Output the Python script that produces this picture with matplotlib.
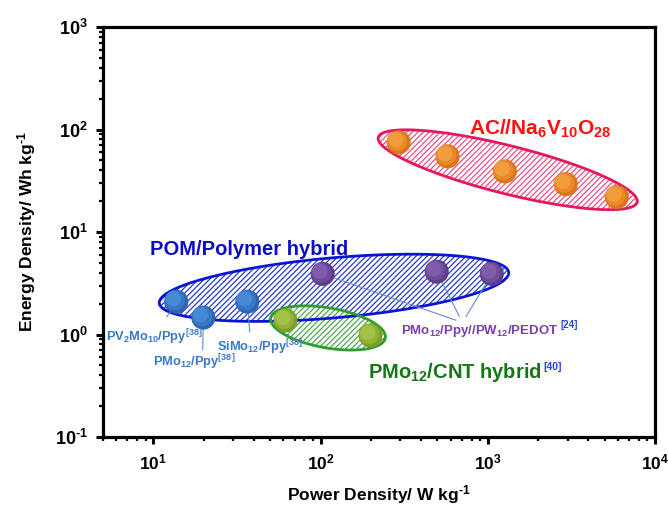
import numpy as np
import matplotlib
matplotlib.use("Agg")
import matplotlib.pyplot as plt
import matplotlib.transforms as mtransforms
from matplotlib.patches import Polygon
from matplotlib.ticker import FuncFormatter, LogLocator

plt.rcParams['font.family'] = ['Liberation Sans', 'DejaVu Sans']
plt.rcParams['font.weight'] = 'bold'
plt.rcParams['mathtext.fontset'] = 'custom'
plt.rcParams['mathtext.rm'] = 'Liberation Sans:bold'
plt.rcParams['mathtext.it'] = 'Liberation Sans:bold:italic'
plt.rcParams['mathtext.bf'] = 'Liberation Sans:bold'
plt.rcParams['mathtext.default'] = 'rm'
plt.rcParams['hatch.linewidth'] = 0.9

# ---------------- data ----------------
ac_power = [293, 575, 1265, 2930, 5910]
ac_energy = [74.8, 54.7, 39.0, 29.3, 21.9]

ppy_power = [13.7, 19.9, 36.5]          # PV2Mo10/Ppy, PMo12/Ppy, SiMo12/Ppy
ppy_energy = [2.09, 1.46, 2.09]

pedot_power = [103, 495, 1057]          # PMo12/Ppy//PW12/PEDOT
pedot_energy = [3.9, 4.1, 3.9]

cnt_power = [61.7, 199]                 # PMo12/CNT hybrid
cnt_energy = [1.37, 0.98]

xlim = (5, 1e4)
ylim = (0.1, 1000)

HY = '\u2010'  # short hyphen for exponents

# ---------------- figure ----------------
fig = plt.figure(figsize=(6.68, 5.13), dpi=100)
ax = fig.add_axes([103/668, 1-437/513, (655-103)/668, (437-27)/513])
ax.set_xscale('log')
ax.set_yscale('log')
ax.set_xlim(*xlim)
ax.set_ylim(*ylim)

for s in ax.spines.values():
    s.set_linewidth(2.3)
ax.xaxis.set_major_locator(LogLocator(base=10, numticks=10))
ax.yaxis.set_major_locator(LogLocator(base=10, numticks=10))
ax.xaxis.set_minor_locator(LogLocator(base=10, subs=np.arange(2, 10), numticks=20))
ax.yaxis.set_minor_locator(LogLocator(base=10, subs=np.arange(2, 10), numticks=20))


def exp_fmt(v, p):
    e = int(round(np.log10(v)))
    es = (HY + str(-e)) if e < 0 else str(e)
    return '$10^{%s}$' % es


fmt = FuncFormatter(exp_fmt)
ax.xaxis.set_major_formatter(fmt)
ax.yaxis.set_major_formatter(fmt)
ax.xaxis.set_minor_formatter(FuncFormatter(lambda v, p: ''))
ax.yaxis.set_minor_formatter(FuncFormatter(lambda v, p: ''))
ax.tick_params(which='major', direction='out', length=5, width=2.2, labelsize=13, pad=6)
ax.tick_params(axis='x', which='major', labelsize=12.5)
ax.tick_params(which='minor', direction='out', length=3, width=1.6)
ax.tick_params(top=False, right=False, which='both')

ax.set_xlabel('Power Density/ W kg$^{%s1}$' % HY, fontsize=12.5, fontweight='bold', labelpad=8)
ax.set_ylabel('Energy Density/ Wh kg$^{%s1}$' % HY, fontsize=12.5, fontweight='bold', labelpad=12)

fig.canvas.draw()


def group_ellipse(xs, ys, pad_px, half_w_px, edge, hatch_col, lw):
    """Ellipse enclosing a group of points: axis along first->last point."""
    pts = ax.transData.transform(np.column_stack([xs, ys]))
    i0, i1 = np.argmin(pts[:, 0]), np.argmax(pts[:, 0])
    p0, p1 = pts[i0], pts[i1]
    c = (p0 + p1) / 2
    d = p1 - p0
    L = np.hypot(*d) / 2 + pad_px
    ang = np.arctan2(d[1], d[0])
    t = np.linspace(0, 2*np.pi, 300)
    ex = L*np.cos(t)
    ey = half_w_px*np.sin(t)
    X = c[0] + ex*np.cos(ang) - ey*np.sin(ang)
    Y = c[1] + ex*np.sin(ang) + ey*np.cos(ang)
    dat = ax.transData.inverted().transform(np.column_stack([X, Y]))
    ax.add_patch(Polygon(dat, closed=True, facecolor='white', edgecolor=hatch_col,
                         hatch='//////', linewidth=0, zorder=2))
    ax.add_patch(Polygon(dat, closed=True, facecolor='none', edgecolor=edge,
                         linewidth=lw, zorder=3))


group_ellipse(ac_power, ac_energy, 21, 24, '#E8175D', '#E8508A', 2.0)
group_ellipse(ppy_power + pedot_power, ppy_energy + pedot_energy, 17, 30,
              '#0A14D8', '#2B3CC8', 2.0)
group_ellipse(cnt_power, cnt_energy, 15, 20, '#2E9E2E', '#4FA84F', 2.0)


def spheres(xs, ys, base, mid, light):
    ax.scatter(xs, ys, s=300, color=base, edgecolors='none', zorder=6)
    for k, (sz, col) in enumerate([(210, mid), (120, light)]):
        off = mtransforms.offset_copy(ax.transData, fig=fig, x=-1.0*(k+1), y=1.0*(k+1), units='points')
        ax.scatter(xs, ys, s=sz, color=col, edgecolors='none', zorder=7+k, transform=off, alpha=0.8)


spheres(ac_power, ac_energy, '#D9761C', '#EE8E2C', '#F5A244')
spheres(ppy_power, ppy_energy, '#2D66B0', '#3B7CCB', '#4A8ED8')
spheres(pedot_power, pedot_energy, '#5E3C8C', '#74509F', '#8462AE')
spheres(cnt_power, cnt_energy, '#7E9E2A', '#95B83A', '#A6C64C')


def px2data(px, py):
    return 10**(1 + (px-155)/167), 10**(2 - (py-128)/103)


# group titles
ax.text(*px2data(541, 127), r'AC//Na$_6$V$_{10}$O$_{28}$', color='#FF1010',
        fontsize=15, fontweight='bold', ha='center', va='center', zorder=10)
ax.text(*px2data(251, 249), 'POM/Polymer hybrid', color='#0B0BC8',
        fontsize=14.5, fontweight='bold', ha='center', va='center', zorder=10)
t_cnt = ax.text(*px2data(456, 372), r'PMo$_{12}$/CNT hybrid', color='#167516',
                fontsize=14.5, fontweight='bold', ha='center', va='center', zorder=10)
ax.annotate('[40]', xy=(1.01, 0.72), xycoords=t_cnt, color='#2545D8', fontsize=7.5,
            fontweight='bold', ha='left', va='center', zorder=10)

line_kw = dict(arrowstyle='-', color='#5B8FD0', lw=0.8, shrinkB=0)
blue_lab = '#3A78C8'
labels_ppy = [r'PV$_2$Mo$_{10}$/Ppy$^{[38]}$', r'PMo$_{12}$/Ppy$^{[38]}$', r'SiMo$_{12}$/Ppy$^{[38]}$']
lab_pos = [(156, 337), (196, 362), (262, 347)]
rel = [(0.56, 1.0), (0.60, 1.0), (0.38, 1.0)]
shr = [9, 2, 4]
for i, lab in enumerate(labels_ppy):
    tt = ax.text(*px2data(*lab_pos[i]), lab, color=blue_lab, fontsize=9.3,
                 fontweight='bold', ha='center', va='center', zorder=10)
    ax.annotate('', xy=(ppy_power[i], ppy_energy[i]), xycoords='data',
                xytext=rel[i], textcoords=tt,
                arrowprops=dict(line_kw, shrinkA=shr[i]), zorder=5)

t_ped = ax.text(*px2data(481, 330), r'PMo$_{12}$/Ppy//PW$_{12}$/PEDOT', color='#7A3FA6',
                fontsize=9.5, fontweight='bold', ha='center', va='center', zorder=10)
ax.annotate('[24]', xy=(1.01, 0.85), xycoords=t_ped, color='#2545D8', fontsize=7,
            fontweight='bold', ha='left', va='center', zorder=10)
for xv, yv in zip(pedot_power, pedot_energy):
    ax.annotate('', xy=(xv, yv), xycoords='data', xytext=(0.39, 1.0), textcoords=t_ped,
                arrowprops=dict(line_kw, shrinkA=5), zorder=5)

fig.savefig('out.png', dpi=100)
